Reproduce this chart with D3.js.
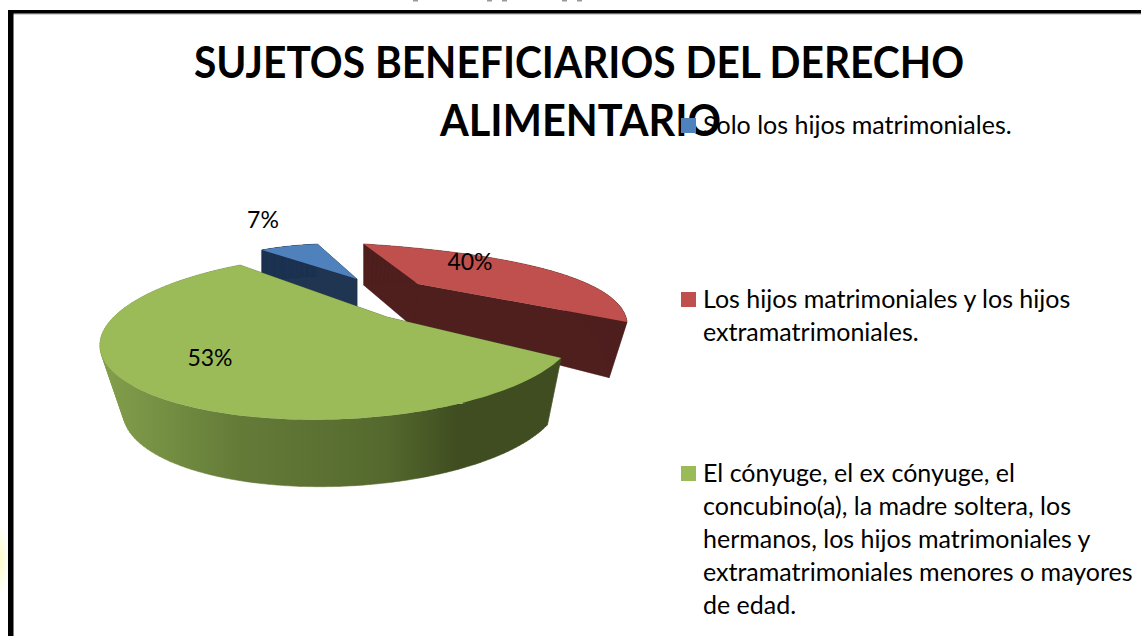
<!DOCTYPE html>
<html><head><meta charset="utf-8">
<script src="https://cdn.jsdelivr.net/npm/d3@7"></script>
<style>html,body{margin:0;padding:0;background:#fff;overflow:hidden}svg{display:block}text{font-family:Lato,sans-serif;fill:#000}</style>
</head><body><svg id="c" width="1141" height="636"></svg>
<script>
const titleLines = ["SUJETOS BENEFICIARIOS DEL DERECHO", "ALIMENTARIO"];
const legendLines = [["Solo los hijos matrimoniales."], ["Los hijos matrimoniales y los hijos", "extramatrimoniales."], ["El cónyuge, el ex cónyuge, el", "concubino(a), la madre soltera, los", "hermanos, los hijos matrimoniales y", "extramatrimoniales menores o mayores", "de edad."]];
const values = [7, 40, 53];
const colors = ["#4f81bd", "#c0504d", "#9bbb59"];
const sideColors = ["#1f3552", "#4f1f1e", "url(#gs)"];
const svg = d3.select("#c");
const defs = svg.append("defs");
const g = defs.append("linearGradient").attr("id","gs").attr("gradientUnits","userSpaceOnUse").attr("x1",100).attr("x2",560).attr("y1",0).attr("y2",0);
[[0,"#83a04c"],[.3,"#647b38"],[.62,"#55692e"],[.78,"#3f4d20"],[1,"#3f4d20"]].forEach(s=>g.append("stop").attr("offset",s[0]).attr("stop-color",s[1]));

const glow = defs.append("radialGradient").attr("id","gl");
glow.append("stop").attr("offset",0).attr("stop-color","#fdfdc8");
glow.append("stop").attr("offset",1).attr("stop-color","#ffffff");
svg.append("ellipse").attr("cx",0).attr("cy",560).attr("rx",9).attr("ry",36).attr("fill","url(#gl)");
// slide frame
svg.append("rect").attr("x",8).attr("y",13.5).attr("width",1133).attr("height",1).attr("fill","#aaa");
svg.append("rect").attr("x",8).attr("y",10).attr("width",1133).attr("height",3.5).attr("fill","#000");
svg.append("rect").attr("x",8).attr("y",10).attr("width",5.5).attr("height",626).attr("fill","#000");
// clipped descenders of the line above the frame
[413,487,502,562,577].forEach(x=>svg.append("rect").attr("x",x).attr("y",0).attr("width",5).attr("height",1.5).attr("fill","#999"));

const frames = [
 {ax:357, ay:279, ux:105, uy:27, vx:100, vy:-23, k:0, dy:V=>32, apexDy:32, dxTo:357, dxC:0},
 {ax:418, ay:284, ux:209, uy:45, vx:198, vy:-38.6, k:.9, dy:V=>59-35*V, apexDy:44, dxTo:364, dxC:.068},
 {ax:387, ay:317, ux:165.7, uy:48, vx:148.4, vy:-60, k:.3, dy:V=>67, apexDy:67, dxTo:390, dxC:.08}
];
const rot = -84.6*Math.PI/180;
const arcs = d3.pie().sort(null).value(d=>d)(values);
function topPt(f,a){const U=Math.sin(a+rot),V=Math.cos(a+rot),w=1+f.k*V;
  return {x:f.ax+(U*f.ux+V*f.vx)/w,y:f.ay+(U*f.uy+V*f.vy)/w,V};}
function botPt(f,p){return {x:p.x+(f.dxTo-p.x)*f.dxC,y:p.y+f.dy(p.V)};}
const line = d3.line().x(d=>d.x).y(d=>d.y);
function quad(a,b,c,e){
  const q=[a,b,c,e];
  return line(d3.polygonArea(q.map(p=>[p.x,p.y]))<0?q.slice().reverse():q)+"Z";
}
[0,1,2].forEach(i=>{
  const f=frames[i],d=arcs[i];
  const rim=d3.range(0,121).map(j=>topPt(f,d.startAngle+(d.endAngle-d.startAngle)*j/120));
  const apex={x:f.ax,y:f.ay,V:0};
  const apexB={x:botPt(f,apex).x,y:f.ay+f.apexDy};
  const gs=svg.append("g");
  const rb=rim.map(p=>botPt(f,p));
  let sideD="";
  for(let j=0;j<120;j++) sideD+=quad(rim[j],rim[j+1],rb[j+1],rb[j]);
  [rim[0],rim[120]].forEach(p=>{ sideD+=quad(apex,p,botPt(f,p),apexB); });
  gs.append("path").attr("d",sideD).attr("fill",sideColors[i]).attr("fill-rule","nonzero").attr("stroke",sideColors[i]).attr("stroke-width",.5);
  gs.append("path").attr("d",line([apex,...rim])+"Z").attr("fill",colors[i]);
});
const labelPos=[[263,228],[470,270],[210,366]];
values.forEach((v,i)=>svg.append("text").attr("x",labelPos[i][0]).attr("y",labelPos[i][1]).attr("text-anchor","middle").attr("font-size",23).text(v+"%"));
const titleX=[194,440], titleW=[770,281], titleY=[78,136];
titleLines.forEach((t,i)=>svg.append("text").attr("x",titleX[i]).attr("y",titleY[i]).attr("textLength",titleW[i]).attr("lengthAdjust","spacingAndGlyphs").attr("font-size",43).attr("font-weight",700).text(t));
const legendY=[125.5,299.5,473.5], lh=33;
legendLines.forEach((ls,i)=>{
  svg.append("rect").attr("x",681).attr("y",legendY[i]-7.5).attr("width",15).attr("height",15).attr("fill",colors[i]);
  ls.forEach((t,j)=>svg.append("text").attr("x",703).attr("y",legendY[i]+8+j*lh).attr("font-size",25).text(t));
});
</script></body></html>
